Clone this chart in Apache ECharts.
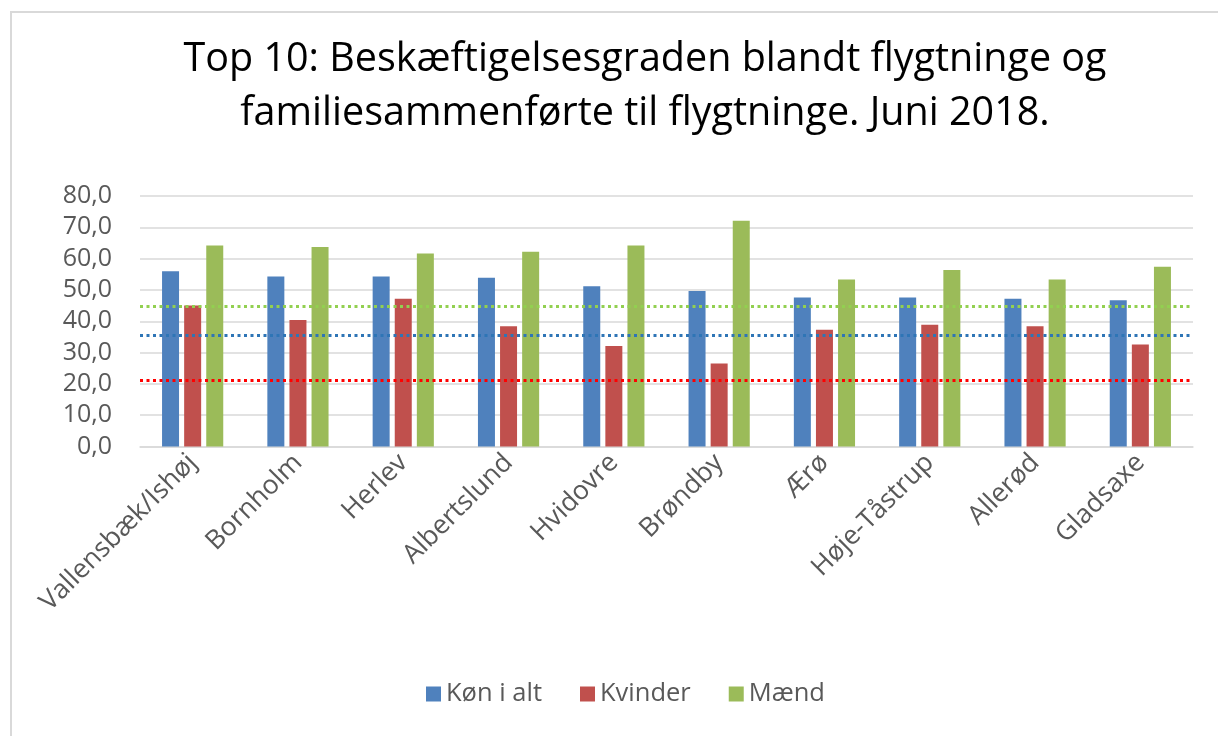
<!DOCTYPE html>
<html><head><meta charset="utf-8">
<script src="https://cdn.jsdelivr.net/npm/echarts@6/dist/echarts.min.js"></script>
<style>html,body{margin:0;padding:0;background:#fff;}#c{width:1218px;height:736px;}</style>
</head><body><div id="c"></div>
<script>
const categories = ["Vallensbæk/Ishøj","Bornholm","Herlev","Albertslund","Hvidovre","Brøndby","Ærø","Høje-Tåstrup","Allerød","Gladsaxe"];
const konIAlt = [56.0,54.3,54.3,53.9,51.2,49.7,47.6,47.6,47.2,46.7];
const kvinder = [45.0,40.4,47.2,38.4,32.1,26.5,37.3,38.9,38.4,32.6];
const maend   = [64.2,63.7,61.6,62.2,64.2,72.1,53.3,56.4,53.3,57.4];
const refKonIAlt = 35.5;
const refKvinder = 21.3;
const refMaend = 44.8;
const yTicks = [0,10,20,30,40,50,60,70,80];

const font = '"Open Sans", sans-serif';
const chart = echarts.init(document.getElementById('c'));
function ref(v, color){
  return {silent:true, symbol:'none', label:{show:false},
    lineStyle:{color:color, width:3, type:[3,3.5]},
    data:[{yAxis:v}]};
}
chart.setOption({
  animation:false,
  textStyle:{fontFamily:font},
  graphic:[{type:'rect', shape:{x:11,y:12,width:1400,height:900}, style:{fill:'none', stroke:'#d9d9d9', lineWidth:2}, z:-1}],
  title:{
    text:'Top 10: Beskæftigelsesgraden blandt flygtninge og\nfamiliesammenførte til flygtninge. Juni 2018.',
    left:640, top:28, textAlign:'center',
    textStyle:{fontFamily:font, fontSize:39.5, fontWeight:'normal', color:'#000', lineHeight:54}
  },
  legend:{
    bottom:24, left:421, itemWidth:15, itemHeight:15, itemGap:38, icon:'rect',
    textStyle:{fontFamily:font, fontSize:25.5, color:'#595959'},
    data:['Køn i alt','Kvinder','Mænd']
  },
  grid:{left:140, right:25, top:196, bottom:289.5},
  xAxis:{
    type:'category', data:categories,
    axisLine:{lineStyle:{color:'#d9d9d9', width:1.5}},
    axisTick:{show:false},
    axisLabel:{rotate:45, interval:0, fontSize:26.5, color:'#595959', margin:12, fontFamily:font}
  },
  yAxis:{
    type:'value', min:0, max:80, interval:10,
    axisLine:{show:false}, axisTick:{show:false},
    splitLine:{lineStyle:{color:'#d9d9d9', width:1.5}},
    axisLabel:{fontSize:25, color:'#595959', margin:28, fontFamily:font,
      formatter:v=>v.toFixed(1).replace('.',',')}
  },
  series:[
    {name:'Køn i alt', type:'bar', data:konIAlt, barWidth:17, barGap:'30%',
      itemStyle:{color:'#4F81BD'}, markLine:ref(refKonIAlt,'#2E75B6')},
    {name:'Kvinder', type:'bar', data:kvinder, barWidth:17, barGap:'30%',
      itemStyle:{color:'#C0504D'}, markLine:ref(refKvinder,'#FF0000')},
    {name:'Mænd', type:'bar', data:maend, barWidth:17, barGap:'30%',
      itemStyle:{color:'#9BBB59'}, markLine:ref(refMaend,'#92D050')}
  ]
});
</script></body></html>
